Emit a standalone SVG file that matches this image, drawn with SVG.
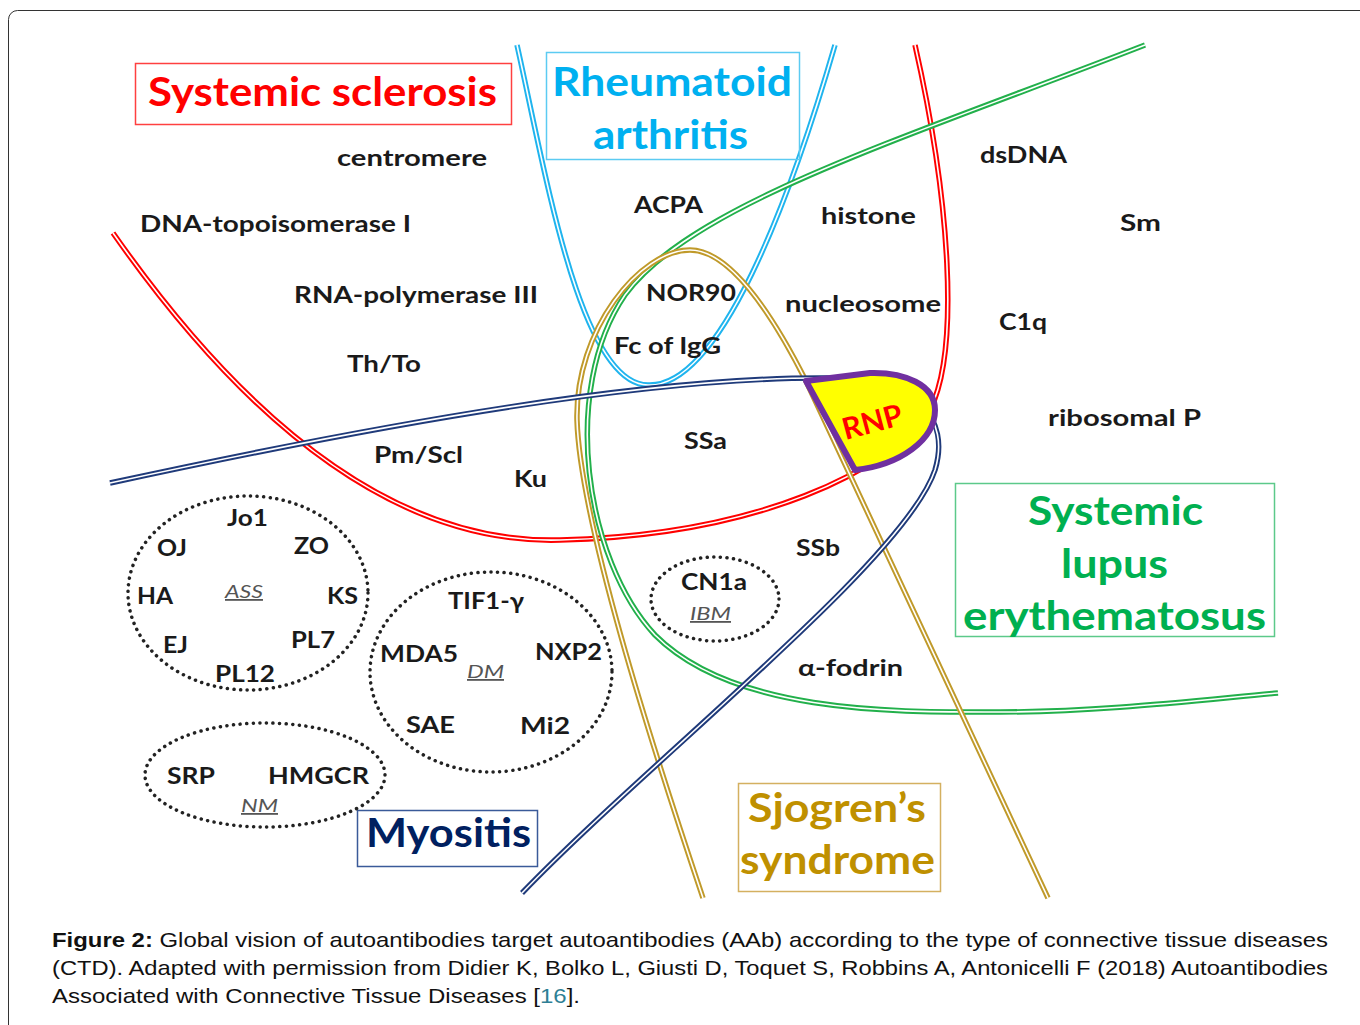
<svg xmlns="http://www.w3.org/2000/svg" width="1360" height="1025" viewBox="0 0 1360 1025">
<style>
.lbl{font-family:Lato,"Open Sans","Liberation Sans",sans-serif;font-weight:bold;font-size:23px;fill:#1a1a1a}
.sub{font-family:Lato,"Open Sans","Liberation Sans",sans-serif;font-style:italic;font-size:18px;fill:#555;text-decoration:underline}
.ttl{font-family:Lato,"Open Sans","Liberation Sans",sans-serif;font-weight:bold;font-size:40px}
.cap{font-family:"Liberation Sans",Arial,sans-serif;font-size:21px;fill:#111}
.o{fill:none;stroke-width:5.5;stroke-linecap:butt}
.w{fill:none;stroke:#fff;stroke-width:1.6}
.dot{fill:none;stroke:#222;stroke-width:3.5;stroke-dasharray:0.1 6.5;stroke-linecap:round}
</style>
<rect x="8.5" y="10.5" width="1400" height="1100" rx="9" fill="#fff" stroke="#333" stroke-width="1"/>

<g id="connectors">
  <g id="curve-ssc"><path class="o" stroke="#ff0000" d="M113,233 C 230,400 380,545 560,540 C 760,535 890,470 930,410 C 960,350 950,200 915,45"/><path class="w" d="M113,233 C 230,400 380,545 560,540 C 760,535 890,470 930,410 C 960,350 950,200 915,45"/></g>
  <g id="curve-ra"><path class="o" stroke="#1fb4ee" d="M517,45 C 545,170 580,385 648,385 C 720,388 790,200 835,45"/><path class="w" d="M517,45 C 545,170 580,385 648,385 C 720,388 790,200 835,45"/></g>
  <g id="curve-sle"><path class="o" stroke="#22b04b" d="M1145,45 C 900,140 690,205 625,295 C 560,390 585,560 655,635 C 735,715 900,712 1000,712 C 1100,712 1200,700 1278,693"/><path class="w" d="M1145,45 C 900,140 690,205 625,295 C 560,390 585,560 655,635 C 735,715 900,712 1000,712 C 1100,712 1200,700 1278,693"/></g>
  <g id="curve-ss"><path class="o" stroke="#c09a2a" d="M703,898 C 650,740 580,520 577,420 C 575,330 640,250 690,250 C 725,250 765,300 806,381 L1048,898"/><path class="w" d="M703,898 C 650,740 580,520 577,420 C 575,330 640,250 690,250 C 725,250 765,300 806,381 L1048,898"/></g>
  <g id="curve-myo"><path class="o" stroke="#1f3a7a" d="M110,483 C 400,420 650,378 820,378 C 920,376 950,420 935,470 C 905,560 650,760 522,893"/><path class="w" d="M110,483 C 400,420 650,378 820,378 C 920,376 950,420 935,470 C 905,560 650,760 522,893"/></g>
</g>

<g id="rnp">
  <path d="M806,381 L855,470 C 900,465 935,440 935,410 C 935,385 905,372 870,373 Z" fill="#ffff00" stroke="#7030a0" stroke-width="6" stroke-linejoin="round"/>
  <text transform="translate(875,432) rotate(-15)" text-anchor="middle" font-family="Lato,'Open Sans',sans-serif" font-weight="bold" font-size="30" fill="#ff0000">RNP</text>
</g>

<g id="title-ssc"><rect x="135.5" y="63.5" width="376" height="61" fill="none" stroke="#ff4040" stroke-width="1.5"/><text class="ttl" x="148" y="106" fill="#ff0000" textLength="349" lengthAdjust="spacingAndGlyphs">Systemic sclerosis</text></g>
<g id="title-ra"><rect x="546.5" y="52.5" width="253" height="107" fill="none" stroke="#5ccbf2" stroke-width="1.5"/><text class="ttl" x="552" y="96" fill="#00b0f0" textLength="240" lengthAdjust="spacingAndGlyphs">Rheumatoid</text><text class="ttl" x="593" y="149" fill="#00b0f0" textLength="155" lengthAdjust="spacingAndGlyphs">arthritis</text></g>
<g id="title-sle"><rect x="955.5" y="483.5" width="319" height="153" fill="none" stroke="#5cc98a" stroke-width="1.5"/><text class="ttl" x="1028" y="525" fill="#00b050" textLength="175" lengthAdjust="spacingAndGlyphs">Systemic</text><text class="ttl" x="1061" y="578" fill="#00b050" textLength="107" lengthAdjust="spacingAndGlyphs">lupus</text><text class="ttl" x="963" y="630" fill="#00b050" textLength="303" lengthAdjust="spacingAndGlyphs">erythematosus</text></g>
<g id="title-myo"><rect x="357.5" y="810.5" width="180" height="56" fill="none" stroke="#3a5a99" stroke-width="1.5"/><text class="ttl" x="366" y="847" fill="#002060" textLength="165" lengthAdjust="spacingAndGlyphs">Myositis</text></g>
<g id="title-ss"><rect x="738.5" y="783.5" width="202" height="108" fill="none" stroke="#d4b060" stroke-width="1.5"/><text class="ttl" x="748" y="822" fill="#bf9000" textLength="178" lengthAdjust="spacingAndGlyphs">Sjogren’s</text><text class="ttl" x="740" y="874" fill="#bf9000" textLength="195" lengthAdjust="spacingAndGlyphs">syndrome</text></g>

<g id="labels">
  <text class="lbl" x="337" y="166" textLength="150" lengthAdjust="spacingAndGlyphs">centromere</text>
  <text class="lbl" x="140" y="232" textLength="271" lengthAdjust="spacingAndGlyphs">DNA-topoisomerase I</text>
  <text class="lbl" x="294" y="303" textLength="244" lengthAdjust="spacingAndGlyphs">RNA-polymerase III</text>
  <text class="lbl" x="347" y="372" textLength="74" lengthAdjust="spacingAndGlyphs">Th/To</text>
  <text class="lbl" x="374" y="463" textLength="89" lengthAdjust="spacingAndGlyphs">Pm/Scl</text>
  <text class="lbl" x="514" y="487" textLength="33" lengthAdjust="spacingAndGlyphs">Ku</text>
  <text class="lbl" x="634" y="213" textLength="69" lengthAdjust="spacingAndGlyphs">ACPA</text>
  <text class="lbl" x="646" y="301" textLength="90" lengthAdjust="spacingAndGlyphs">NOR90</text>
  <text class="lbl" x="614" y="354" textLength="107" lengthAdjust="spacingAndGlyphs">Fc of IgG</text>
  <text class="lbl" x="821" y="224" textLength="95" lengthAdjust="spacingAndGlyphs">histone</text>
  <text class="lbl" x="785" y="312" textLength="156" lengthAdjust="spacingAndGlyphs">nucleosome</text>
  <text class="lbl" x="980" y="163" textLength="87" lengthAdjust="spacingAndGlyphs">dsDNA</text>
  <text class="lbl" x="1120" y="231" textLength="41" lengthAdjust="spacingAndGlyphs">Sm</text>
  <text class="lbl" x="999" y="330" textLength="48" lengthAdjust="spacingAndGlyphs">C1q</text>
  <text class="lbl" x="1048" y="426" textLength="153" lengthAdjust="spacingAndGlyphs">ribosomal P</text>
  <text class="lbl" x="684" y="449" textLength="43" lengthAdjust="spacingAndGlyphs">SSa</text>
  <text class="lbl" x="796" y="556" textLength="44" lengthAdjust="spacingAndGlyphs">SSb</text>
  <text class="lbl" x="798" y="676" textLength="105" lengthAdjust="spacingAndGlyphs">α-fodrin</text>
</g>

<g id="group-ass">
  <ellipse class="dot" cx="248" cy="593" rx="120" ry="97"/>
  <text class="lbl" x="227" y="526" textLength="41" lengthAdjust="spacingAndGlyphs">Jo1</text>
  <text class="lbl" x="157" y="556" textLength="30" lengthAdjust="spacingAndGlyphs">OJ</text>
  <text class="lbl" x="294" y="554" textLength="35" lengthAdjust="spacingAndGlyphs">ZO</text>
  <text class="lbl" x="137" y="604" textLength="36" lengthAdjust="spacingAndGlyphs">HA</text>
  <text class="sub" x="225" y="598" textLength="38" lengthAdjust="spacingAndGlyphs">ASS</text>
  <text class="lbl" x="327" y="604" textLength="31" lengthAdjust="spacingAndGlyphs">KS</text>
  <text class="lbl" x="163" y="653" textLength="25" lengthAdjust="spacingAndGlyphs">EJ</text>
  <text class="lbl" x="291" y="648" textLength="44" lengthAdjust="spacingAndGlyphs">PL7</text>
  <text class="lbl" x="215" y="682" textLength="60" lengthAdjust="spacingAndGlyphs">PL12</text>
</g>
<g id="group-dm">
  <ellipse class="dot" cx="491" cy="672" rx="121" ry="100"/>
  <text class="lbl" x="448" y="609" textLength="76" lengthAdjust="spacingAndGlyphs">TIF1-γ</text>
  <text class="lbl" x="380" y="662" textLength="78" lengthAdjust="spacingAndGlyphs">MDA5</text>
  <text class="lbl" x="535" y="660" textLength="67" lengthAdjust="spacingAndGlyphs">NXP2</text>
  <text class="sub" x="467" y="678" textLength="37" lengthAdjust="spacingAndGlyphs">DM</text>
  <text class="lbl" x="406" y="733" textLength="49" lengthAdjust="spacingAndGlyphs">SAE</text>
  <text class="lbl" x="520" y="734" textLength="50" lengthAdjust="spacingAndGlyphs">Mi2</text>
</g>
<g id="group-nm">
  <ellipse class="dot" cx="265" cy="775" rx="120" ry="52"/>
  <text class="lbl" x="167" y="784" textLength="48" lengthAdjust="spacingAndGlyphs">SRP</text>
  <text class="lbl" x="268" y="784" textLength="101" lengthAdjust="spacingAndGlyphs">HMGCR</text>
  <text class="sub" x="241" y="812" textLength="37" lengthAdjust="spacingAndGlyphs">NM</text>
</g>
<g id="group-ibm">
  <ellipse class="dot" cx="715" cy="599" rx="64" ry="42"/>
  <text class="lbl" x="681" y="590" textLength="66" lengthAdjust="spacingAndGlyphs">CN1a</text>
  <text class="sub" x="690" y="620" textLength="41" lengthAdjust="spacingAndGlyphs">IBM</text>
</g>

<g id="caption">
  <text class="cap" x="52" y="947" textLength="1276" lengthAdjust="spacingAndGlyphs"><tspan font-weight="bold">Figure 2:</tspan> Global vision of autoantibodies target autoantibodies (AAb) according to the type of connective tissue diseases</text>
  <text class="cap" x="52" y="975" textLength="1276" lengthAdjust="spacingAndGlyphs">(CTD). Adapted with permission from Didier K, Bolko L, Giusti D, Toquet S, Robbins A, Antonicelli F (2018) Autoantibodies</text>
  <text class="cap" x="52" y="1003" textLength="528" lengthAdjust="spacingAndGlyphs">Associated with Connective Tissue Diseases [<tspan fill="#2e7f95">16</tspan>].</text>
</g>
</svg>
